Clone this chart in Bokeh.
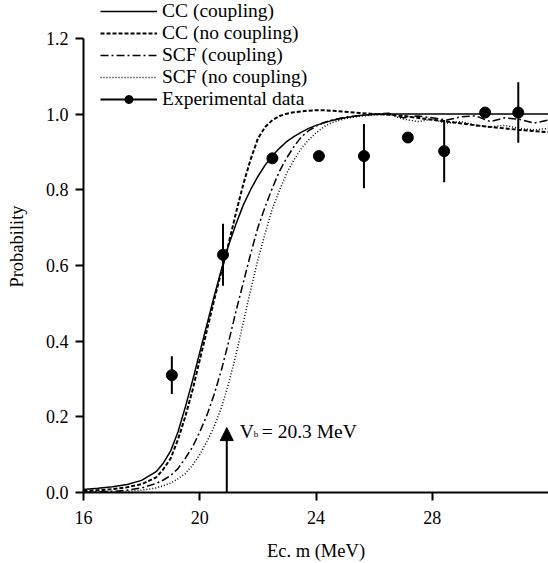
from bokeh.plotting import figure
from bokeh.models import (Legend, LegendItem, FixedTicker, Arrow, NormalHead, Label)
from bokeh.embed import file_html
from bokeh.resources import INLINE

# ---------------- data ----------------
energy = [16, 16.5, 17, 17.5, 18, 18.5, 18.75,
          19, 19.25, 19.5, 19.75, 20, 20.25, 20.5, 20.75, 21, 21.25, 21.5, 21.75,
          22, 22.25, 22.5, 22.75, 23, 23.25, 23.5, 23.75, 24, 24.25, 24.5,
          25, 25.5, 26, 26.5, 27, 27.5, 28, 28.5, 29, 29.5, 30, 30.5, 31, 31.5, 32]

cc_coupling = [0.008, 0.011, 0.015, 0.021, 0.032, 0.055, 0.078,
               0.11, 0.16, 0.225, 0.295, 0.37, 0.445, 0.52, 0.59, 0.655, 0.71,
               0.76, 0.80, 0.835, 0.865, 0.89, 0.91, 0.928, 0.941, 0.952, 0.962,
               0.97, 0.976, 0.982,
               0.99, 0.996, 0.999, 1.0, 1.0, 1.0, 1.0, 1.0, 1.0, 1.0, 1.0, 1.0,
               1.0, 1.0, 1.0]

cc_no_coupling = [0.004, 0.006, 0.009, 0.014, 0.022, 0.04, 0.062,
                  0.09, 0.14, 0.2, 0.27, 0.35, 0.43, 0.51, 0.585, 0.66, 0.74,
                  0.815, 0.88, 0.935, 0.966, 0.984, 0.995, 1.001, 1.005, 1.007,
                  1.009, 1.01, 1.01, 1.009,
                  1.006, 1.003, 1.0, 0.998, 0.995, 0.99, 0.985, 0.98, 0.975,
                  0.97, 0.966, 0.962, 0.958, 0.955, 0.952]

scf_coupling = [0.001, 0.002, 0.003, 0.006, 0.012, 0.024, 0.033,
                0.045, 0.063, 0.09, 0.12, 0.16, 0.205, 0.26, 0.325, 0.40, 0.48,
                0.555, 0.63, 0.70, 0.755, 0.805, 0.85, 0.885, 0.915, 0.94, 0.956,
                0.968, 0.977, 0.983,
                0.992, 0.996, 1.0, 1.002, 0.99, 0.995, 0.99, 0.984, 0.993, 0.995,
                0.98, 0.99, 0.986, 0.976, 0.984]

scf_no_coupling = [0.0, 0.001, 0.001, 0.003, 0.006, 0.012, 0.018,
                   0.025, 0.036, 0.05, 0.072, 0.10, 0.135, 0.175, 0.225, 0.29,
                   0.365, 0.45, 0.535, 0.615, 0.685, 0.75, 0.80, 0.845, 0.88,
                   0.91, 0.932, 0.95, 0.965, 0.976,
                   0.988, 0.994, 0.998, 1.0, 0.987, 0.98, 0.986, 0.976, 0.98,
                   0.97, 0.966, 0.97, 0.962, 0.958, 0.962]

exp_x = [19.04, 20.8, 22.5, 24.1, 25.65, 27.16, 28.41, 29.82, 30.96]
exp_y = [0.31, 0.628, 0.883, 0.889, 0.889, 0.938, 0.902, 1.004, 1.004]
exp_err = [0.05, 0.082, 0.0, 0.0, 0.085, 0.0, 0.082, 0.0, 0.08]

vb_x = 20.93
vb_top = 0.1715
vb_label_y = 0.161
vb_text = "= 20.3 MeV"

x_ticks = [16, 20, 24, 28]
y_ticks = [0.0, 0.2, 0.4, 0.6, 0.8, 1.0, 1.2]
y_tick_labels = ["0.0", "0.2", "0.4", "0.6", "0.8", "1.0", "1.2"]

x_title = "Ec. m (MeV)"
y_title = "Probability"
series_names = ["CC (coupling)", "CC (no coupling)", "SCF (coupling)",
                "SCF (no coupling)", "Experimental data"]

FONT = "Liberation Serif"

# ---------------- figure ----------------
# frame reaches the top of the page so the legend above 1.2 is not clipped;
# the y axis line itself stops at 1.2 (bounds)
p = figure(width=548, height=563, x_range=(16, 32), y_range=(0, 1.3),
           output_backend="svg", toolbar_location=None,
           min_border_left=83, min_border_right=0, min_border_top=0,
           min_border_bottom=70)
p.outline_line_color = None
p.xgrid.visible = False
p.ygrid.visible = False
p.background_fill_color = "white"

for ax in (p.xaxis[0], p.yaxis[0]):
    ax.axis_line_color = "black"
    ax.axis_line_width = 2
    ax.major_tick_line_color = "black"
    ax.major_tick_line_width = 2
    ax.major_tick_out = 8
    ax.major_tick_in = 0
    ax.minor_tick_line_color = None
    ax.major_label_text_font = FONT
    ax.major_label_text_font_size = "18px"
    ax.major_label_text_color = "black"
    ax.axis_label_text_font = FONT
    ax.axis_label_text_font_size = "18.5px"
    ax.axis_label_text_font_style = "normal"
    ax.axis_label_text_color = "black"

p.yaxis[0].bounds = (0, 1.2)
p.xaxis[0].ticker = FixedTicker(ticks=x_ticks)
p.yaxis[0].ticker = FixedTicker(ticks=y_ticks)
p.yaxis[0].major_label_overrides = {t: l for t, l in zip(y_ticks, y_tick_labels)}
p.xaxis[0].axis_label = x_title
p.yaxis[0].axis_label = y_title
p.xaxis[0].major_label_standoff = 10
p.yaxis[0].major_label_standoff = 7
p.xaxis[0].axis_label_standoff = 14
p.yaxis[0].axis_label_standoff = 16

r1 = p.line(energy, cc_coupling, line_color="black", line_width=1.5)
r2 = p.line(energy, cc_no_coupling, line_color="black", line_width=2,
            line_dash="4 2")
r3 = p.line(energy, scf_coupling, line_color="black", line_width=1.5,
            line_dash="8 3 2 3")
r4 = p.line(energy, scf_no_coupling, line_color="black", line_width=1.5,
            line_dash="1 2")

y_lo = [y - e for y, e in zip(exp_y, exp_err)]
y_hi = [y + e for y, e in zip(exp_y, exp_err)]
r5 = p.segment(x0=exp_x, y0=y_lo, x1=exp_x, y1=y_hi, line_color="black",
               line_width=2)
r6 = p.scatter(exp_x, exp_y, size=11, marker="circle", fill_color="black",
               line_color="black")

# arrow for V_b
p.add_layout(Arrow(end=NormalHead(size=13, fill_color="black", line_color="black"),
                   x_start=vb_x, y_start=0, x_end=vb_x, y_end=vb_top,
                   line_color="black", line_width=2))
p.add_layout(Label(x=vb_x, y=vb_label_y, x_offset=13, text="V", text_font=FONT,
                   text_font_size="19.5px", text_baseline="alphabetic",
                   text_color="black"))
p.add_layout(Label(x=vb_x, y=vb_label_y, x_offset=27, y_offset=-2, text="b",
                   text_font=FONT, text_font_size="9px",
                   text_baseline="alphabetic", text_color="black"))
p.add_layout(Label(x=vb_x, y=vb_label_y, x_offset=35, text=vb_text, text_font=FONT,
                   text_font_size="19.5px", text_baseline="alphabetic",
                   text_color="black"))

legend = Legend(items=[
    LegendItem(label=series_names[0], renderers=[r1]),
    LegendItem(label=series_names[1], renderers=[r2]),
    LegendItem(label=series_names[2], renderers=[r3]),
    LegendItem(label=series_names[3], renderers=[r4]),
    LegendItem(label=series_names[4], renderers=[r5, r6]),
], location=(17, 382))
legend.background_fill_alpha = 0
legend.border_line_color = None
legend.padding = 0
legend.margin = 0
legend.spacing = 0
legend.glyph_width = 57
legend.glyph_height = 20
legend.label_height = 20
legend.label_standoff = 5
legend.label_text_font = FONT
legend.label_text_font_size = "19.5px"
legend.label_text_color = "black"
p.add_layout(legend, "center")

open("out.html", "w").write(file_html(p, INLINE))
